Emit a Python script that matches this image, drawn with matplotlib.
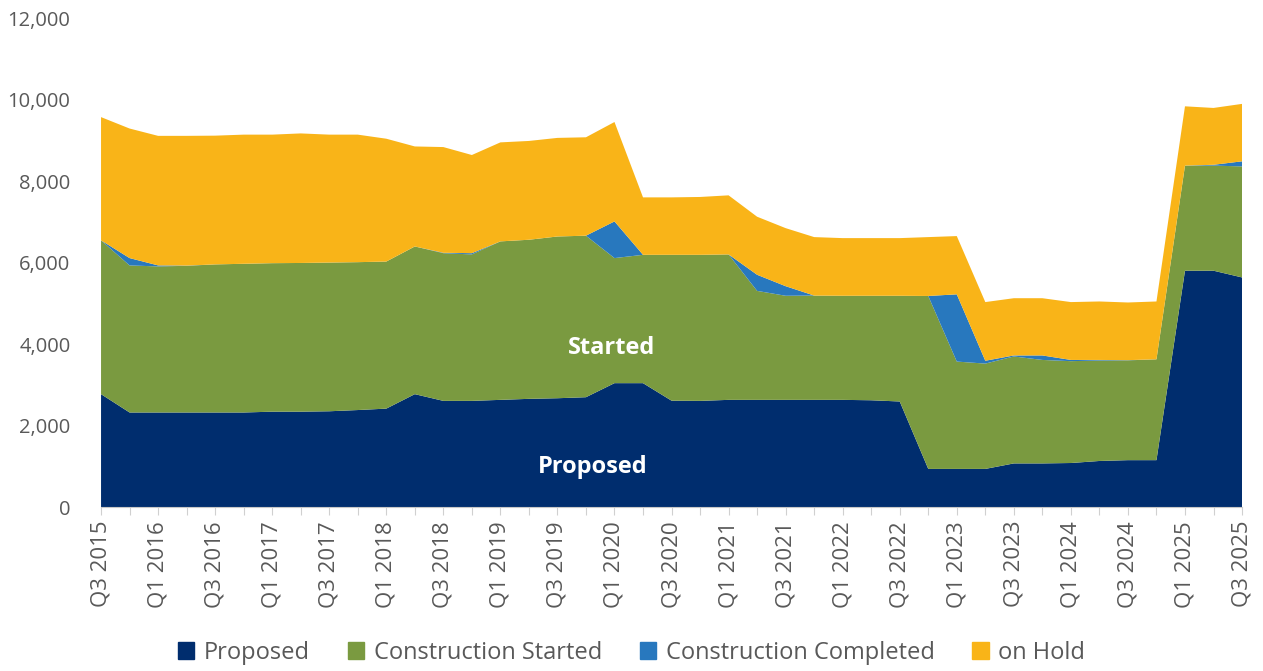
import matplotlib.pyplot as plt
import numpy as np

# quarters Q3 2015 .. Q3 2025
quarters = []
for yr in range(2015, 2026):
    for q in range(1, 5):
        if (yr == 2015 and q < 3) or (yr == 2025 and q > 3):
            continue
        quarters.append('Q%d %d' % (q, yr))

proposed = [2770, 2320, 2320, 2320, 2320, 2320, 2340, 2340, 2350, 2380, 2415,
            2770, 2605, 2605, 2630, 2655, 2670, 2695, 3040, 3040, 2610, 2605,
            2630, 2630, 2630, 2630, 2630, 2620, 2590, 935, 935, 935, 1070,
            1070, 1080, 1130, 1150, 1150, 5800, 5800, 5635]
started = [3775, 3610, 3585, 3600, 3635, 3650, 3645, 3650, 3650, 3630, 3610,
           3625, 3625, 3595, 3890, 3905, 3970, 3965, 3070, 3150, 3580, 3585,
           3570, 2675, 2555, 2560, 2555, 2565, 2595, 4245, 2635, 2585, 2625,
           2540, 2500, 2465, 2450, 2475, 2580, 2580, 2725]
completed = [0, 180, 25, 5, 0, 0, 0, 0, 0, 0, 0,
             0, 10, 30, 0, 0, 0, 0, 900, 0, 0, 0,
             0, 395, 235, 0, 0, 0, 0, 0, 1650, 70, 25,
             110, 30, 15, 5, 0, 0, 20, 125]
on_hold = [3025, 3180, 3180, 3185, 3160, 3170, 3155, 3180, 3140, 3130, 3015,
           2455, 2595, 2410, 2430, 2425, 2420, 2415, 2440, 1410, 1410, 1420,
           1450, 1425, 1425, 1435, 1415, 1415, 1415, 1445, 1430, 1440, 1405,
           1405, 1420, 1435, 1415, 1420, 1455, 1395, 1410]

names = ['Proposed', 'Construction Started', 'Construction Completed', 'on Hold']
colors = ['#002D6E', '#7A9A40', '#2878BE', '#F9B418']

plt.rcParams['font.family'] = ['Open Sans', 'DejaVu Sans']

fig = plt.figure(figsize=(12.63, 6.71), dpi=100)
ax = fig.add_axes([0.08, 0.2444, 0.9034, 0.7286])

x = np.arange(len(quarters))
ax.stackplot(x, proposed, started, completed, on_hold, colors=colors,
             labels=names, linewidth=0)

ax.set_xlim(0, len(quarters) - 1)
ax.set_ylim(0, 12000)
ax.set_yticks(range(0, 12001, 2000))
ax.set_yticklabels(['{:,}'.format(v) for v in range(0, 12001, 2000)],
                   fontsize=14.5, color='#595959')
ax.tick_params(axis='y', length=0, pad=22)

ax.set_xticks(x)
ax.set_xticklabels([q if i % 2 == 0 else '' for i, q in enumerate(quarters)],
                   rotation=90, fontsize=16, color='#595959')
ax.tick_params(axis='x', length=6, color='#d0d0d0', pad=4)

for s in ['top', 'right', 'left']:
    ax.spines[s].set_visible(False)
ax.spines['bottom'].set_color('#c8c8c8')

ax.text(17.9, 3900, 'Started', color='white', fontsize=17, fontweight='bold',
        ha='center', va='center')
ax.text(17.25, 980, 'Proposed', color='white', fontsize=17, fontweight='bold',
        ha='center', va='center')

handles = [plt.Rectangle((0, 0), 1, 1, color=c) for c in colors]
fig.legend(handles, names, loc='center', bbox_to_anchor=(0.5, 0.027), ncol=4,
           frameon=False, fontsize=17, handlelength=0.7, handleheight=0.7,
           handletextpad=0.4, columnspacing=1.6, labelcolor='#595959')

fig.savefig('out.png', dpi=100)
